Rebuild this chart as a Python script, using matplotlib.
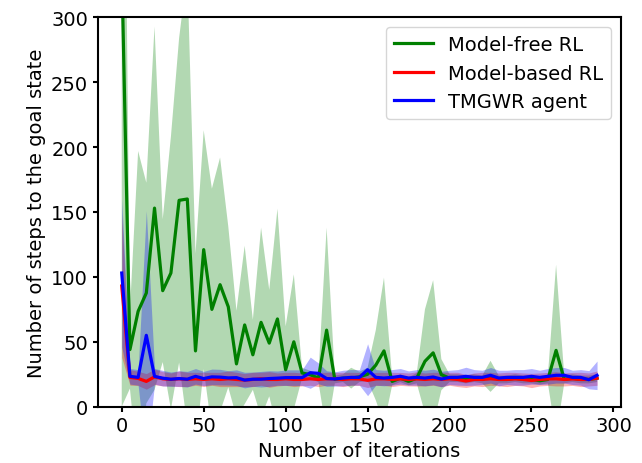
import matplotlib
matplotlib.use("Agg")
import matplotlib.pyplot as plt
import numpy as np

# iterations 0..290, step 5
iterations = list(range(0, 295, 5))

# Model-free RL (mean and std of steps)
free_mean = [340, 44, 73.5, 87.6, 153, 89.4, 103, 159, 160, 43,
             121, 75, 94, 77, 33, 63, 40, 65, 49, 67.6,
             28.5, 50, 26, 24.7, 22, 59, 21, 22, 22, 23,
             25, 32, 43, 19.5, 22, 19.5, 22, 35, 41.5, 24.7,
             22, 22, 21, 22, 21, 23.4, 21, 21, 22, 21,
             21, 20, 21, 43.4, 21, 22, 21, 21, 22]
free_std = [340, 30, 123.5, 85, 140, 55, 105, 125, 175, 75,
            92, 93, 98, 62, 41, 61, 27, 73, 41, 85,
            33.5, 52, 4, 3, 3, 79, 3, 3, 8, 4,
            5, 27, 56.5, 3, 3, 3, 4, 40, 56, 12,
            3, 3, 3, 3, 3, 12, 3, 3, 3, 3,
            3, 3, 3, 66, 3, 3, 3, 3, 3]

# Model-based RL
based_mean = [93, 22.6, 21.8, 19.5, 23, 21.5, 21, 21.5, 21, 21.5,
              21, 21.5, 21, 21.5, 21, 20.5, 21, 21.5, 21, 21,
              21.5, 21, 21, 21.5, 21, 21.5, 21.4, 21, 21.5, 21.4,
              20.3, 21.4, 21.5, 21, 21.4, 21, 21.4, 21, 21.5, 21,
              21.5, 21, 19.8, 21, 21, 21.5, 21, 21, 21.4, 21,
              20.2, 21, 21.4, 21.5, 21, 21.4, 21, 21, 22]
based_std = [55, 6, 5.5, 6, 6, 5.5, 5, 6, 5.5, 5,
             5.5, 5, 5.5, 6, 5.5, 5, 5.5, 5, 6, 5,
             5, 5.5, 5, 5, 5.5, 5, 5, 5.5, 5, 5,
             5.5, 5, 5, 5.5, 5, 5, 5.5, 5, 5, 5.5,
             5, 5.5, 5, 5, 5.5, 5, 5, 5.5, 5, 5,
             5.5, 5, 5, 5.5, 5, 5, 5.5, 5, 5.5]

# TMGWR agent
tmgwr_mean = [103, 23.4, 22.6, 55, 23.4, 22, 21.2, 21.7, 21.2, 23.4,
              21.7, 23, 22.8, 22.2, 22.4, 20.5, 21.2, 21.2, 21.7, 22,
              22.4, 22.4, 22.4, 26.2, 25.7, 21.7, 21.4, 22.1, 22.6, 22.6,
              28.5, 22.6, 22.1, 22.6, 23.4, 22.1, 22.6, 22.1, 22.9, 21.3,
              22.6, 22.6, 23.4, 22.6, 22.6, 24.2, 22.1, 22.6, 22.6, 22.6,
              23.4, 22.6, 23.4, 24.2, 24.2, 22.6, 22.6, 20.8, 24.2]
tmgwr_std = [57, 6, 6, 96, 6, 6, 5.5, 6, 6, 6,
             5.5, 6, 6, 5.5, 6, 6, 5.5, 6, 6, 5.5,
             6, 6, 6, 12, 8, 6, 5.5, 6, 6, 6,
             20, 6, 6, 6, 6, 5.5, 6, 6, 6, 6,
             5.5, 6, 7, 6, 5.5, 6, 6, 5.5, 6, 6,
             6, 5.5, 6, 6, 6, 5.5, 6, 7, 11]

series = [
    ("Model-free RL", free_mean, free_std, "green"),
    ("Model-based RL", based_mean, based_std, "red"),
    ("TMGWR agent", tmgwr_mean, tmgwr_std, "blue"),
]

plt.rcParams["font.size"] = 14
plt.rcParams["axes.linewidth"] = 1.5
plt.rcParams["xtick.major.width"] = 1.5
plt.rcParams["ytick.major.width"] = 1.5

fig, ax = plt.subplots(figsize=(6.42, 4.64), dpi=100)
fig.subplots_adjust(left=0.1526, right=0.967, bottom=0.1213, top=0.9606)

x = np.array(iterations)
for label, mean, std, color in series:
    mean = np.array(mean)
    std = np.array(std)
    ax.plot(x, mean, color=color, lw=2.3, label=label)
    ax.fill_between(x, mean - std, mean + std, color=color, alpha=0.3, lw=0)

ax.set_ylim(0, 300)
ax.set_xlabel("Number of iterations")
ax.set_ylabel("Number of steps to the goal state")
ax.legend(loc="upper right")

plt.savefig("out.png", dpi=100)
